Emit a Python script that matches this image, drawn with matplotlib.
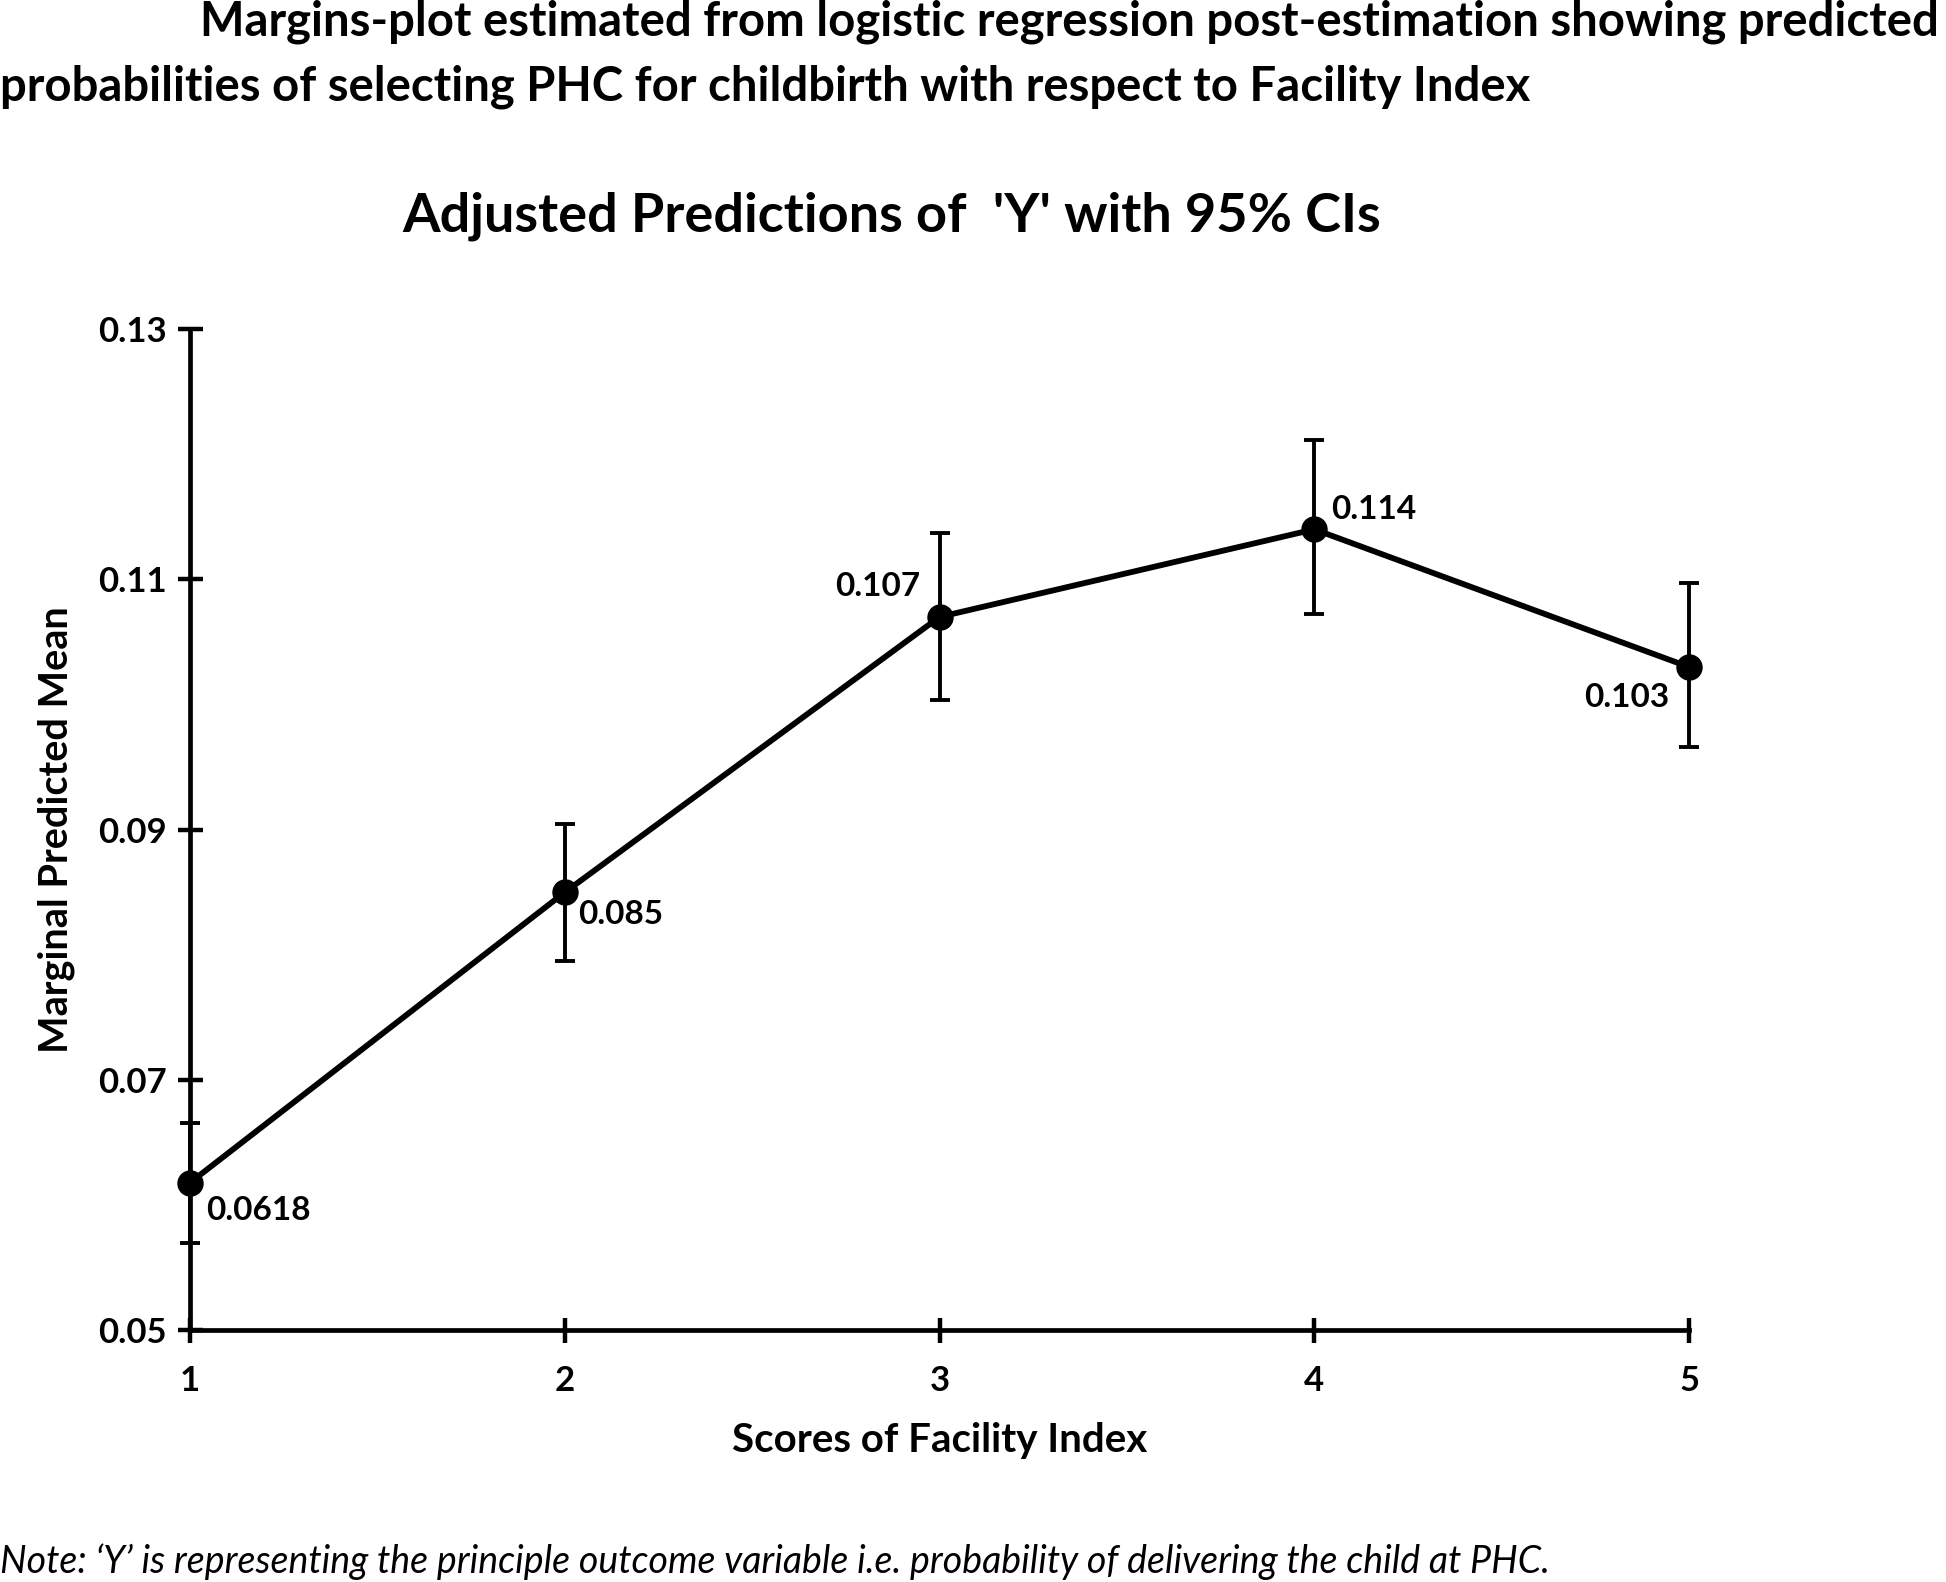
import matplotlib
matplotlib.use("Agg")
import matplotlib.pyplot as plt

plt.rcParams['font.family'] = ['Lato', 'DejaVu Sans']

# facility index scores and the margins output
scores = [1, 2, 3, 4, 5]
pred_mean = [0.0618, 0.085, 0.107, 0.114, 0.103]
ci_low = [0.0570, 0.0795, 0.1004, 0.1072, 0.0966]
ci_high = [0.0666, 0.0905, 0.1137, 0.1211, 0.1097]
point_labels = ["0.0618", "0.085", "0.107", "0.114", "0.103"]
y_ticks = [0.05, 0.07, 0.09, 0.11, 0.13]
y_tick_labels = ["0.05", "0.07", "0.09", "0.11", "0.13"]

fig = plt.figure(figsize=(19.46, 15.82), dpi=100)
ax = fig.add_axes([0.0976, 0.159, 0.7704, 0.633])

err_lo = [m - l for m, l in zip(pred_mean, ci_low)]
err_hi = [h - m for m, h in zip(pred_mean, ci_high)]
ax.errorbar(scores, pred_mean, yerr=[err_lo, err_hi], fmt='none', ecolor='black',
            elinewidth=2.8, capsize=7, capthick=2.8, clip_on=False, zorder=3)
ax.plot(scores, pred_mean, color='black', linewidth=4.2, marker='o', markersize=18,
        clip_on=False, zorder=4)

# value labels next to each point (offset in points)
offsets = [(12, -20), (10, -16), (-14, 22), (12, 14), (-14, -22)]
aligns = ['left', 'left', 'right', 'left', 'right']
for x, y, lab, off, ha in zip(scores, pred_mean, point_labels, offsets, aligns):
    ax.annotate(lab, (x, y), xytext=off, textcoords='offset points', ha=ha, va='center',
                fontsize=24, fontweight='bold')

ax.set_xlim(1, 5)
ax.set_ylim(0.05, 0.13)
ax.set_xticks(scores)
ax.set_xticklabels([str(s) for s in scores])
ax.set_yticks(y_ticks)
ax.set_yticklabels(y_tick_labels)
ax.spines['top'].set_visible(False)
ax.spines['right'].set_visible(False)
for sp in ('left', 'bottom'):
    ax.spines[sp].set_linewidth(3.4)
ax.tick_params(axis='both', direction='inout', length=18, width=3.2, labelsize=25)
ax.tick_params(axis='x', pad=16)
ax.tick_params(axis='y', pad=8)
for lab in ax.get_xticklabels() + ax.get_yticklabels():
    lab.set_fontweight('bold')

ax.set_xlabel("Scores of Facility Index", fontsize=29, fontweight='bold', labelpad=18)
ax.set_ylabel("Marginal Predicted Mean", fontsize=28.5, fontweight='bold', labelpad=16)

fig.text(0.458, 0.863, "Adjusted Predictions of  'Y' with 95% CIs", ha='center', va='center',
         fontsize=39, fontweight='bold')
fig.text(0.103, 0.986, "Margins-plot estimated from logistic regression post-estimation showing predicted",
         ha='left', va='center', fontsize=34, fontweight='bold')
fig.text(0.0, 0.945, "probabilities of selecting PHC for childbirth with respect to Facility Index",
         ha='left', va='center', fontsize=34, fontweight='bold')
fig.text(0.0, 0.013, "Note: \u2018Y\u2019 is representing the principle outcome variable i.e. probability of delivering the child at PHC.",
         ha='left', va='center', fontsize=27, style='italic')

fig.savefig("out.png", dpi=100)
